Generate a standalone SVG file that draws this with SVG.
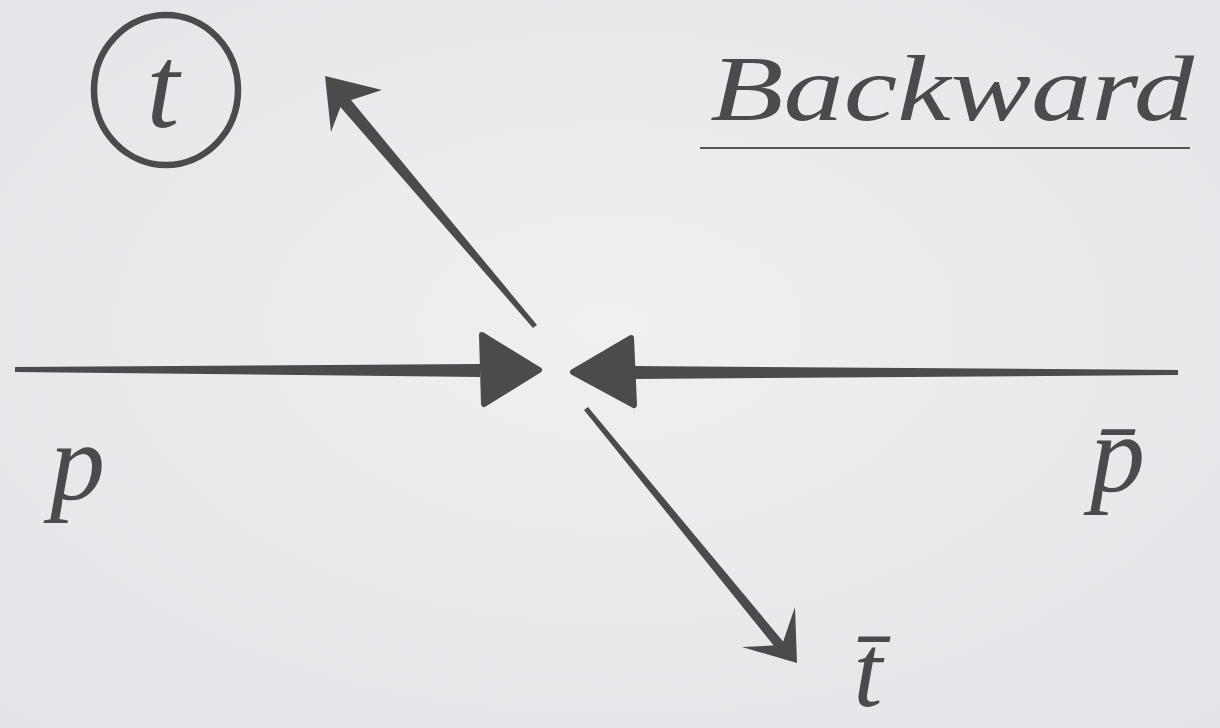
<svg xmlns="http://www.w3.org/2000/svg" width="1220" height="728" viewBox="0 0 1220 728">
  <defs>
    <radialGradient id="bg" cx="50%" cy="45%" r="75%">
      <stop offset="0" stop-color="#eef0f2"/>
      <stop offset="1" stop-color="#e2e4e7"/>
    </radialGradient>
    <style>
      .ink { fill: #4b4b4b; }
      .inkline { stroke: #4b4b4b; fill: none; stroke-linecap: round; stroke-linejoin: round; }
      .head { fill: #4b4b4b; stroke: #4b4b4b; stroke-width: 6; stroke-linejoin: round; }
      .hand { font-family: "Liberation Serif", "DejaVu Serif", serif; font-style: italic; fill: #4b4b4b; }
    </style>
  </defs>
  <rect width="1220" height="728" fill="url(#bg)"/>

  <g id="node-t">
    <ellipse cx="166" cy="90" rx="72" ry="75" class="inkline" stroke-width="6.5"/>
    <text x="163" y="127" class="hand" font-size="118" text-anchor="middle">t</text>
  </g>

  <g id="title">
    <text x="710" y="120" class="hand" font-size="94" textLength="484" lengthAdjust="spacingAndGlyphs">Backward</text>
    <line x1="700" y1="148" x2="1190" y2="148" stroke="#555" stroke-width="2"/>
  </g>

  <g id="node-p">
    <text x="50" y="500" class="hand" font-size="110">p</text>
  </g>

  <g id="node-pbar">
    <text x="1090" y="492" class="hand" font-size="110">p̄</text>
  </g>

  <g id="node-tbar">
    <text x="868" y="706" class="hand" font-size="104" text-anchor="middle">t̄</text>
  </g>

  <g id="connectors">
    <!-- p -> center -->
    <polygon class="ink" points="15,367 480,364 480,377 15,372"/>
    <polygon class="head" points="482,335 539,370 484,404"/>
    <!-- pbar -> center -->
    <polygon class="ink" points="1178,370 632,366 632,379 1178,375"/>
    <polygon class="head" points="631,338 573,372 634,405"/>
    <!-- center -> t (up-left) -->
    <polygon class="ink" points="537,325 533,328 336,102 346,94"/>
    <path class="ink" d="M382,90 L325,76 L331,132 L342,103 Z"/>
    <!-- center -> tbar (down-right) -->
    <polygon class="ink" points="584,410 588,407 786,645 779,652"/>
    <path class="ink" d="M742,647 L797,663 L795,607 L782,645 Z"/>
  </g>
</svg>
